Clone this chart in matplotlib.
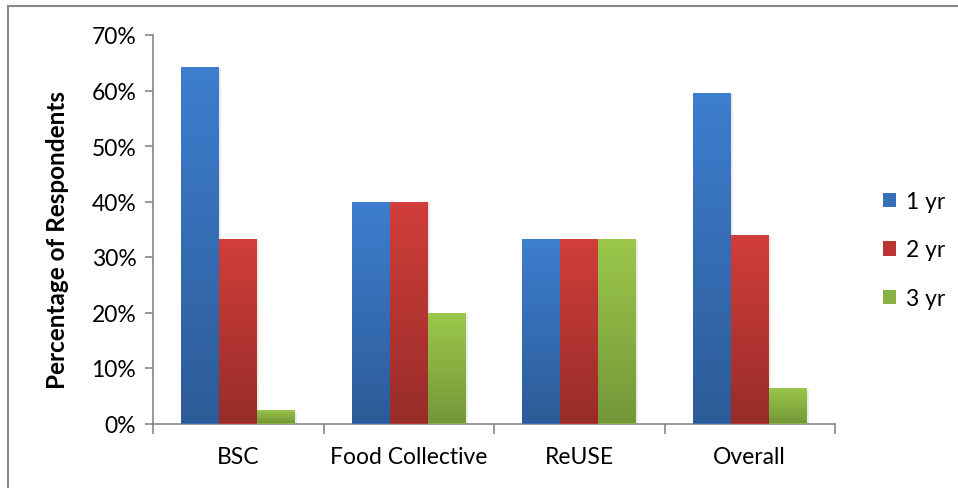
import numpy as np
import matplotlib
matplotlib.use("Agg")
import matplotlib.pyplot as plt
from matplotlib.lines import Line2D
from matplotlib.colors import LinearSegmentedColormap
from matplotlib.ticker import FuncFormatter, FixedLocator

categories = ["BSC", "Food Collective", "ReUSE", "Overall"]
series_names = ["1 yr", "2 yr", "3 yr"]
yr1 = [64.3, 40.0, 33.3, 59.6]
yr2 = [33.3, 40.0, 33.3, 34.0]
yr3 = [2.4, 20.0, 33.3, 6.4]
values = [yr1, yr2, yr3]

top_colors = ["#3D7ECF", "#D13E3B", "#9CC84B"]
bot_colors = ["#2D5B97", "#982C29", "#739739"]
mid_colors = ["#376FB8", "#BB3533", "#88B042"]

plt.rcParams['font.family'] = ['Lato', 'DejaVu Sans']

fig = plt.figure(figsize=(9.58, 4.89), dpi=100)
ax = fig.add_axes([153/958, 1-424.5/489, (835-153)/958, (424.5-36)/489])

x = np.arange(len(categories))
w = 1/4.5
for i, (vals, name) in enumerate(zip(values, series_names)):
    offs = (i - 1) * w
    bars = ax.bar(x + offs, vals, width=w, color=mid_colors[i], label=name, zorder=3)
    cmap = LinearSegmentedColormap.from_list("g%d" % i, [bot_colors[i], top_colors[i]])
    for b in bars:
        bx, by = b.get_x(), b.get_y()
        bw, bh = b.get_width(), b.get_height()
        # shadow
        ax.bar(bx + bw/2 + 0.012, bh, width=bw, bottom=by - 0.3, color="#000000",
               alpha=0.08, zorder=2, linewidth=0)
        grad = np.linspace(0, 1, 256).reshape(-1, 1)
        im = ax.imshow(grad, cmap=cmap, origin="lower", aspect="auto",
                       extent=[bx, bx + bw, by, by + bh], zorder=4)
        im.set_clip_path(b)

ax.set_xlim(-0.5, 3.5)
ax.set_ylim(0, 70)
ax.set_yticks(np.arange(0, 71, 10))
ax.yaxis.set_major_formatter(FuncFormatter(lambda v, p: "%d%%" % v))
ax.xaxis.set_major_locator(FixedLocator([-0.5, 0.5, 1.5, 2.5, 3.5]))
ax.xaxis.set_major_formatter(FuncFormatter(lambda v, p: ""))
ax.xaxis.set_minor_locator(FixedLocator(list(x)))
ax.set_xticklabels(categories, minor=True)
ax.tick_params(axis='x', which='minor', length=0, pad=16, labelsize=16.5)
ax.tick_params(axis='x', which='major', length=7, color="#868686", width=1.2)
ax.tick_params(axis='y', length=6, color="#868686", width=1.2, labelsize=16.5, pad=6)

for s in ["top", "right"]:
    ax.spines[s].set_visible(False)
for s in ["left", "bottom"]:
    ax.spines[s].set_color("#868686")
    ax.spines[s].set_linewidth(1.2)

ax.set_ylabel("Percentage of Respondents", fontsize=17.5, fontweight="bold")
ax.yaxis.set_label_coords((69 - 153) / 682, (424.5 - 240) / 388.5)

handles = [plt.Rectangle((0, 0), 1, 1, facecolor=mid_colors[i]) for i in range(3)]
fig.legend(handles, series_names, loc="center left", bbox_to_anchor=(862/958, 1-251/489),
           frameon=False, fontsize=16.5, handlelength=0.6, handleheight=0.6,
           handletextpad=0.4, labelspacing=1.2)

fig.add_artist(Line2D([8/958, 1.0], [1-7/489, 1-7/489], color="#8A8A8A", lw=1.5,
                      transform=fig.transFigure))
fig.add_artist(Line2D([8/958, 8/958], [0, 1-7/489], color="#8A8A8A", lw=1.5,
                      transform=fig.transFigure))

fig.savefig("out.png", dpi=100)
